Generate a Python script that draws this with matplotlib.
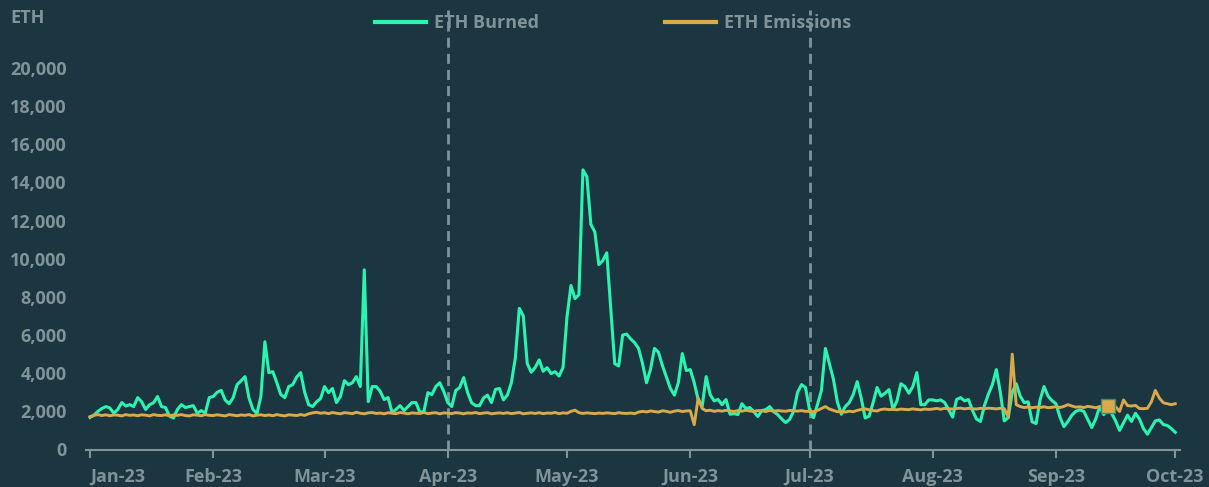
import numpy as np
import pandas as pd
import matplotlib.pyplot as plt
import matplotlib.dates as mdates
from matplotlib.ticker import StrMethodFormatter
from matplotlib.lines import Line2D

plt.rcParams['font.family'] = ['Open Sans', 'DejaVu Sans']
plt.rcParams['font.weight'] = 'bold'

# daily ETH burned
burned_jan = [1680, 1800, 2000, 2150, 2250, 2180, 1900, 2100, 2460, 2280,
              2350, 2250, 2720, 2500, 2100, 2350, 2450, 2780, 2250, 2200,
              1750, 1650, 2100, 2350, 2200, 2250, 2300, 1900, 2040, 1900, 2720]
burned_feb = [2780, 3000, 3100, 2600, 2400, 2700, 3400, 3600, 3820, 2700,
              2100, 1880, 2800, 5650, 4030, 4080, 3500, 2880, 2720, 3300,
              3400, 3800, 4030, 3000, 2350, 2250, 2500, 2670]
burned_mar = [3300, 2980, 3200, 2460, 2780, 3610, 3400, 3500, 3820, 3300,
              9420, 2510, 3300, 3300, 3050, 2620, 2720, 1940, 2100, 2300,
              2040, 2250, 2460, 2460, 1940, 2000, 2980, 2880, 3300, 3500, 3040]
burned_apr = [2460, 2250, 3090, 3250, 3770, 2980, 2450, 2300, 2300, 2700,
              2850, 2460, 3150, 3200, 2600, 2850, 3500, 4800, 7400, 7000,
              4500, 4050, 4300, 4700, 4100, 4290, 3980, 4080, 3850, 4300]
burned_may = [6960, 8600, 7910, 8120, 14660, 14300, 11800, 11410, 9690, 9900,
              10310, 7400, 4500, 4380, 6000, 6050, 5800, 5600, 5300, 4500,
              3500, 4200, 5300, 5100, 4400, 3800, 3200, 2850, 3500, 5030, 4140]
burned_jun = [4190, 3500, 2600, 2250, 3820, 2880, 2550, 2620, 2350, 2620,
              1850, 1880, 1830, 2400, 2150, 2200, 1980, 1730, 2040, 2090,
              2250, 1980, 1830, 1600, 1410, 1580, 2000, 3000, 3400, 3250]
burned_jul = [2090, 1670, 2350, 3100, 5300, 4500, 3700, 2500, 1850, 2250,
              2460, 2880, 3560, 2700, 1650, 1750, 2460, 3250, 2800, 2950,
              3140, 2100, 2550, 3450, 3300, 2950, 3300, 4030, 2350, 2350, 2600]
burned_aug = [2600, 2550, 2600, 2460, 2090, 1700, 2620, 2720, 2550, 2620,
              2050, 1600, 1470, 2300, 2900, 3400, 4190, 3000, 1500, 1670,
              3000, 3450, 2800, 2460, 2500, 1450, 1360, 2600, 3300, 2800, 2560]
burned_sep = [2400, 1700, 1200, 1470, 1800, 2000, 2080, 2000, 1570, 1150,
              1600, 2250, 1830, 2090, 1900, 1500, 1000, 1400, 1800, 1470,
              1900, 1600, 1100, 800, 1150, 1500, 1550, 1310, 1260, 1100]
burned_oct = [900]

# daily ETH emissions
emis_jan = [1720, 1790, 1830, 1780, 1820, 1770, 1810, 1800, 1760, 1830,
            1790, 1810, 1770, 1820, 1800, 1760, 1830, 1790, 1780, 1820,
            1770, 1810, 1790, 1830, 1780, 1760, 1820, 1800, 1770, 1830, 1790]
emis_feb = [1780, 1820, 1790, 1760, 1830, 1800, 1770, 1810, 1790, 1830,
            1760, 1800, 1820, 1780, 1810, 1770, 1830, 1790, 1760, 1820,
            1800, 1780, 1830, 1790, 1870, 1920, 1950, 1900]
emis_mar = [1930, 1880, 1940, 1900, 1870, 1930, 1910, 1880, 1950, 1900,
            1870, 1920, 1940, 1890, 1910, 1870, 1930, 1900, 1880, 1940,
            1910, 1870, 1920, 1900, 1890, 1940, 1880, 1910, 1930, 1870, 1920]
emis_apr = [1900, 1880, 1930, 1910, 1870, 1920, 1900, 1940, 1880, 1910,
            1930, 1870, 1900, 1920, 1890, 1930, 1880, 1910, 1940, 1870,
            1900, 1920, 1890, 1930, 1880, 1910, 1900, 1940, 1880, 1920]
emis_may = [1900, 2000, 2060, 1930, 1890, 1920, 1900, 1880, 1910, 1890,
            1920, 1900, 1880, 1930, 1900, 1890, 1910, 1880, 1960, 2000,
            1970, 2020, 1990, 1960, 2030, 2000, 1950, 2010, 2040, 1990, 2020]
emis_jun = [2030, 1300, 2700, 2150, 2030, 2060, 2000, 2040, 2010, 2050,
            2020, 1990, 2040, 2010, 2060, 2020, 2000, 2040, 2030, 1990,
            2050, 2010, 2040, 2020, 2000, 2050, 2030, 2010, 2040, 2000]
emis_jul = [2000, 1980, 2050, 2150, 2250, 2120, 2050, 1980, 2000, 1960,
            2010, 1980, 2050, 2100, 2130, 2080, 2040, 2020, 2100, 2120,
            2090, 2110, 2080, 2120, 2100, 2090, 2130, 2100, 2080, 2120, 2100]
emis_aug = [2120, 2150, 2110, 2160, 2130, 2120, 2150, 2170, 2130, 2160,
            2140, 2120, 2160, 2130, 2170, 2150, 2130, 2160, 2140, 1700,
            5000, 2350, 2250, 2200, 2230, 2190, 2220, 2200, 2240, 2190, 2210]
emis_sep = [2250, 2200, 2260, 2350, 2280, 2220, 2240, 2200, 2260, 2230,
            2190, 2250, 2270, 2300, 2260, 2240, 2000, 2600, 2300, 2280,
            2310, 2150, 2140, 2160, 2500, 3100, 2700, 2450, 2400, 2350]
emis_oct = [2400]

burned = (burned_jan + burned_feb + burned_mar + burned_apr + burned_may
          + burned_jun + burned_jul + burned_aug + burned_sep + burned_oct)
emissions = (emis_jan + emis_feb + emis_mar + emis_apr + emis_may
             + emis_jun + emis_jul + emis_aug + emis_sep + emis_oct)
dates = pd.date_range('2023-01-01', periods=len(burned), freq='D')

marker_date = pd.Timestamp('2023-09-14')
marker_val = emissions[dates.get_loc(marker_date)]

bg = '#1b3641'
grey = '#7f9399'
green = '#2af5b0'
gold = '#d9aa4b'

W, H = 1209, 487
fig = plt.figure(figsize=(W / 100, H / 100), dpi=100)
fig.patch.set_facecolor(bg)
ax = fig.add_axes([86 / W, (H - 449.5) / H, (1180 - 86) / W, (449.5 - 10) / H])
ax.set_facecolor(bg)

ax.plot(dates, burned, color=green, lw=2.2, zorder=3)
ax.plot(dates, emissions, color=gold, lw=2.1, zorder=4)
ax.plot([marker_date], [marker_val], marker='s', ms=10, color=gold,
        mec='#3d8a6c', mew=1, zorder=5)

for d in ['2023-04-01', '2023-07-01']:
    ax.axvline(pd.Timestamp(d), color=grey, lw=2, ls=(0, (3.6, 2.2)), zorder=2)

start = pd.Timestamp('2023-01-01')
ax.set_xlim(start - pd.Timedelta(days=1), start + pd.Timedelta(days=274.2))
ax.set_ylim(0, 23040)

ax.set_yticks(np.arange(0, 20001, 2000))
ax.yaxis.set_major_formatter(StrMethodFormatter('{x:,.0f}'))
ax.xaxis.set_major_locator(mdates.MonthLocator())
ax.xaxis.set_major_formatter(mdates.DateFormatter('%b-%y'))

for s in ['top', 'right', 'left']:
    ax.spines[s].set_visible(False)
ax.spines['bottom'].set_color(grey)
ax.spines['bottom'].set_linewidth(1.5)

ax.tick_params(axis='y', length=0, pad=14, labelsize=13, labelcolor=grey)
ax.tick_params(axis='x', length=6, width=1.5, color=grey, pad=7,
               labelsize=13, labelcolor=grey)
fig.canvas.draw()
xlabels = ax.get_xticklabels()
xlabels[0].set_ha('left')
xlabels[0].set_x(xlabels[0].get_position()[0])

fig.text(10 / W, 1 - 18 / H, 'ETH', color=grey, fontsize=13,
         fontweight='bold', va='center', ha='left')

handles = [Line2D([], [], color=green, lw=3), Line2D([], [], color=gold, lw=3)]
fig.legend(handles, ['ETH Burned', 'ETH Emissions'], loc='center',
           bbox_to_anchor=(613 / W, 1 - 23 / H), ncol=2, frameon=False,
           handlelength=2.8, columnspacing=7.0, handletextpad=0.45,
           labelcolor=grey, prop={'size': 13, 'weight': 'bold'})

plt.savefig('out.png', dpi=100, facecolor=bg)
